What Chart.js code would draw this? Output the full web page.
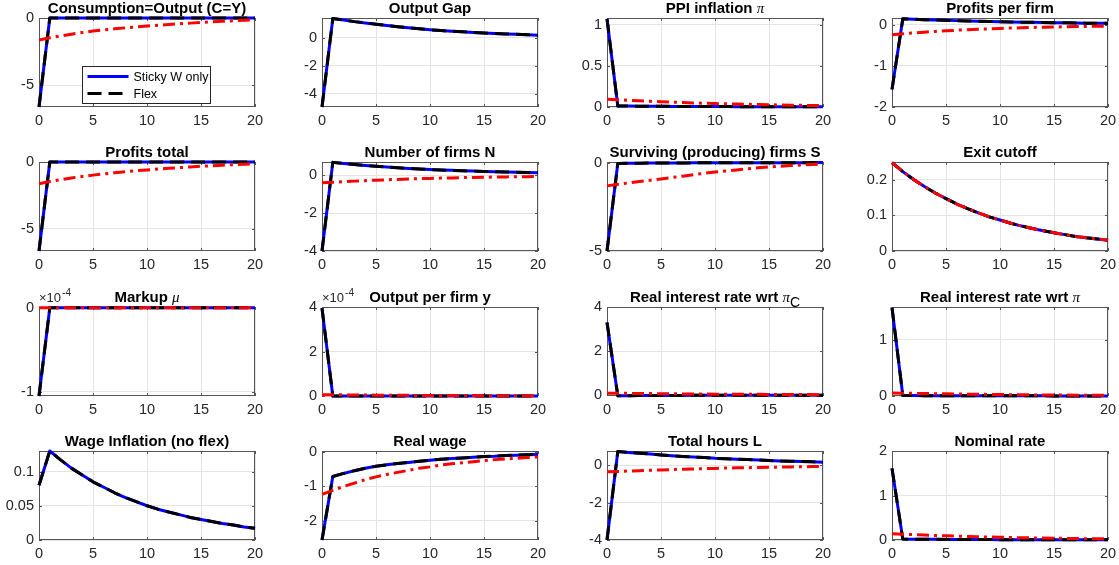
<!DOCTYPE html>
<html lang="en">
<head>
<meta charset="UTF-8">
<title>Impulse responses: Sticky W only vs Flex</title>
<script src="https://cdn.jsdelivr.net/npm/chart.js"></script>
<style>
  body { margin: 0; background: #fff; }
  #fig { position: relative; width: 1119px; height: 565px; overflow: hidden; }
  #fig canvas { position: absolute; }
</style>
</head>
<body>
<div id="fig"></div>
<script>
// horizon
const periods = [0,1,2,3,4,5,6,7,8,9,10,11,12,13,14,15,16,17,18,19,20];
const xTicks = [0, 5, 10, 15, 20];

// --- values (blue = Sticky W only, black = Flex, red = third run) ---
const consSticky = [-6.6,0,0,0,0,0,0,0,0,0,0,0,0,0,0,0,0,0,0,0,0];
const consFlex   = consSticky; // lines coincide
const consAlt    = [-1.63,-1.47,-1.33,-1.20,-1.08,-0.97,-0.88,-0.80,-0.73,-0.66,-0.60,-0.54,-0.48,-0.43,-0.38,-0.33,-0.29,-0.25,-0.21,-0.17,-0.14];

const gapSticky = [-4.95,1.38,1.27,1.16,1.07,0.98,0.89,0.80,0.72,0.65,0.58,0.52,0.47,0.43,0.39,0.35,0.31,0.28,0.25,0.22,0.19];
const gapFlex   = gapSticky;
const gapAlt    = null;

const ppiSticky = [1.07,0.012,0.011,0.010,0.009,0.008,0.0075,0.007,0.0065,0.006,0.0055,0.005,0.0045,0.004,0.0037,0.0034,0.0031,0.0028,0.0025,0.0022,0.002];
const ppiFlex   = ppiSticky;
const ppiAlt    = [0.095,0.088,0.081,0.075,0.069,0.064,0.059,0.054,0.050,0.046,0.042,0.039,0.036,0.033,0.030,0.027,0.025,0.022,0.020,0.018,0.016];

const ppfSticky = [-1.57,0.15,0.14,0.13,0.122,0.114,0.106,0.099,0.092,0.086,0.080,0.074,0.069,0.064,0.060,0.056,0.052,0.048,0.045,0.042,0.039];
const ppfFlex   = ppfSticky;
const ppfAlt    = [-0.24,-0.216,-0.194,-0.175,-0.157,-0.142,-0.128,-0.115,-0.103,-0.093,-0.084,-0.075,-0.068,-0.061,-0.055,-0.049,-0.044,-0.040,-0.036,-0.032,-0.029];

const profSticky = [-6.65,0,0,0,0,0,0,0,0,0,0,0,0,0,0,0,0,0,0,0,0];
const profFlex   = profSticky;
const profAlt    = [-1.62,-1.46,-1.32,-1.19,-1.08,-0.98,-0.89,-0.80,-0.72,-0.65,-0.59,-0.53,-0.47,-0.42,-0.37,-0.32,-0.28,-0.24,-0.20,-0.17,-0.14];

const firmsSticky = [-4.0,0.68,0.62,0.57,0.52,0.47,0.43,0.40,0.36,0.33,0.30,0.28,0.26,0.24,0.22,0.20,0.18,0.17,0.16,0.14,0.13];
const firmsFlex   = firmsSticky;
const firmsAlt    = [-0.40,-0.37,-0.34,-0.31,-0.285,-0.26,-0.24,-0.22,-0.20,-0.18,-0.165,-0.15,-0.14,-0.125,-0.115,-0.105,-0.095,-0.087,-0.08,-0.073,-0.067];

const survSticky = [-5.0,-0.05,-0.04,-0.035,-0.03,-0.027,-0.024,-0.021,-0.019,-0.017,-0.015,-0.013,-0.012,-0.011,-0.010,-0.009,-0.008,-0.007,-0.006,-0.005,-0.005];
const survFlex   = survSticky;
const survAlt    = [-1.32,-1.23,-1.15,-1.07,-1.00,-0.93,-0.85,-0.77,-0.69,-0.61,-0.54,-0.48,-0.42,-0.36,-0.30,-0.25,-0.21,-0.17,-0.14,-0.11,-0.08];

const exitSticky = [0.248,0.223,0.201,0.181,0.163,0.147,0.132,0.119,0.107,0.096,0.087,0.078,0.070,0.063,0.057,0.051,0.046,0.041,0.037,0.034,0.030];
const exitFlex   = exitSticky;
const exitAlt    = exitSticky;

// the next two panels are in units of 1e-4
const markupSticky = [-1.05,0,0,0,0,0,0,0,0,0,0,0,0,0,0,0,0,0,0,0,0];
const markupFlex   = markupSticky;
const markupAlt    = [0,0,0,0,0,0,0,0,0,0,0,0,0,0,0,0,0,0,0,0,0];

const ypfSticky = [3.95,0,0,0,0,0,0,0,0,0,0,0,0,0,0,0,0,0,0,0,0];
const ypfFlex   = ypfSticky;
const ypfAlt    = [0.06,0.055,0.05,0.046,0.042,0.038,0.035,0.032,0.029,0.027,0.025,0.023,0.021,0.019,0.017,0.016,0.015,0.013,0.012,0.011,0.010];

const rrcSticky = [3.3,-0.03,-0.025,-0.02,-0.018,-0.016,-0.014,-0.012,-0.011,-0.01,-0.009,-0.008,-0.007,-0.006,-0.006,-0.005,-0.005,-0.004,-0.004,-0.003,-0.003];
const rrcFlex   = rrcSticky;
const rrcAlt    = [0.09,0.085,0.08,0.075,0.07,0.065,0.06,0.056,0.052,0.048,0.045,0.042,0.039,0.036,0.034,0.031,0.029,0.027,0.025,0.023,0.021];

const rrpSticky = [1.57,0.008,0.007,0.0065,0.006,0.0055,0.005,0.0045,0.004,0.0037,0.0034,0.0031,0.0028,0.0025,0.0023,0.0021,0.0019,0.0017,0.0015,0.0013,0.0012];
const rrpFlex   = rrpSticky;
const rrpAlt    = [0.055,0.051,0.047,0.044,0.041,0.038,0.035,0.032,0.030,0.028,0.026,0.024,0.022,0.020,0.019,0.017,0.016,0.015,0.014,0.013,0.012];

const wageSticky = [0.08,0.13,0.117,0.105,0.095,0.085,0.077,0.069,0.062,0.056,0.050,0.045,0.041,0.037,0.033,0.030,0.027,0.024,0.022,0.019,0.017];
const wageFlex   = wageSticky;
const wageAlt    = null;

const rwSticky = [-2.56,-0.72,-0.63,-0.55,-0.48,-0.42,-0.38,-0.34,-0.31,-0.28,-0.25,-0.22,-0.20,-0.18,-0.16,-0.14,-0.13,-0.11,-0.10,-0.09,-0.08];
const rwFlex   = rwSticky;
const rwAlt    = [-1.24,-1.12,-1.01,-0.91,-0.81,-0.73,-0.66,-0.60,-0.54,-0.48,-0.44,-0.39,-0.35,-0.32,-0.29,-0.26,-0.23,-0.21,-0.19,-0.17,-0.15];

const hoursSticky = [-4.0,0.72,0.67,0.63,0.59,0.54,0.50,0.46,0.43,0.40,0.36,0.34,0.31,0.29,0.27,0.24,0.22,0.20,0.19,0.17,0.15];
const hoursFlex   = hoursSticky;
const hoursAlt    = [-0.36,-0.34,-0.32,-0.30,-0.28,-0.26,-0.24,-0.22,-0.21,-0.19,-0.18,-0.16,-0.15,-0.14,-0.13,-0.12,-0.11,-0.10,-0.09,-0.08,-0.07];

const nomSticky = [1.61,0.02,0.018,0.016,0.015,0.013,0.012,0.011,0.010,0.009,0.008,0.007,0.007,0.006,0.005,0.005,0.004,0.004,0.004,0.003,0.003];
const nomFlex   = nomSticky;
const nomAlt    = [0.14,0.13,0.12,0.11,0.10,0.093,0.086,0.079,0.072,0.066,0.061,0.056,0.051,0.047,0.043,0.040,0.036,0.033,0.030,0.028,0.025];

// titles (\pi, \mu and _X are rendered like the TeX in the original)
const titles = [
  'Consumption=Output (C=Y)', 'Output Gap', 'PPI inflation \\pi', 'Profits per firm',
  'Profits total', 'Number of firms N', 'Surviving (producing) firms S', 'Exit cutoff',
  'Markup \\mu', 'Output per firm y', 'Real interest rate wrt \\pi_C', 'Real interest rate wrt \\pi',
  'Wage Inflation (no flex)', 'Real wage', 'Total hours L', 'Nominal rate'
];
const yLimits = [
  [-6.6, 0], [-4.95, 1.42], [0, 1.08], [-2, 0.17],
  [-6.65, 0], [-4.0, 0.7], [-5.0, 0.03], [0, 0.25],
  [-1.05, 0.01], [0, 4], [-0.04, 4], [0, 1.58],
  [0, 0.13], [-2.56, 0.02], [-4.0, 0.75], [0, 2]
];
const yTickValues = [
  [-5, 0], [-4, -2, 0], [0, 0.5, 1], [-2, -1, 0],
  [-5, 0], [-4, -2, 0], [-5, 0], [0, 0.1, 0.2],
  [-1, 0], [0, 2, 4], [0, 2, 4], [0, 1],
  [0, 0.05, 0.1], [-2, -1, 0], [-4, -2, 0], [0, 1, 2]
];
const yExponent = [null, null, null, null, null, null, null, null, -4, -4, null, null, null, null, null, null];

const stickySeries = [consSticky, gapSticky, ppiSticky, ppfSticky, profSticky, firmsSticky, survSticky, exitSticky,
  markupSticky, ypfSticky, rrcSticky, rrpSticky, wageSticky, rwSticky, hoursSticky, nomSticky];
const flexSeries = [consFlex, gapFlex, ppiFlex, ppfFlex, profFlex, firmsFlex, survFlex, exitFlex,
  markupFlex, ypfFlex, rrcFlex, rrpFlex, wageFlex, rwFlex, hoursFlex, nomFlex];
const altSeries = [consAlt, gapAlt, ppiAlt, ppfAlt, profAlt, firmsAlt, survAlt, exitAlt,
  markupAlt, ypfAlt, rrcAlt, rrpAlt, wageAlt, rwAlt, hoursAlt, nomAlt];

// --- layout (pixels) ---
const colLeft = [39, 322, 607, 892];
const rowTop = [18, 162, 307, 451];
const plotW = 216, plotH = 89;
const padL = 40, padT = 22, padR = 16, padB = 26;

const AXIS_COLOR = '#262626';
const FONT = '"Liberation Sans", Arial, Helvetica, sans-serif';

function titleSegments(str) {
  return str.split(/(\\pi|\\mu|_[A-Za-z])/).filter(p => p !== '').map(p => {
    if (p === '\\pi') return { text: '\u03c0', font: 'italic 15px "Liberation Serif", serif', dy: 0 };
    if (p === '\\mu') return { text: '\u03bc', font: 'italic 15px "Liberation Serif", serif', dy: 0 };
    if (p[0] === '_') return { text: p.slice(1), font: '14px ' + FONT, dy: 5 };
    return { text: p, font: 'bold 15px ' + FONT, dy: 0 };
  });
}

// box, inward ticks, title and exponent, MATLAB style
const axesDecor = {
  id: 'axesDecor',
  beforeDatasetsDraw(chart, args, opts) {
    const { ctx, chartArea: a } = chart;
    const xs = chart.scales.x, ys = chart.scales.y;
    ctx.save();
    ctx.strokeStyle = '#555';
    ctx.lineWidth = 1;
    ctx.strokeRect(Math.round(a.left) + 0.5, Math.round(a.top) + 0.5,
      Math.round(a.right - a.left) - 1, Math.round(a.bottom - a.top) - 1);
    ctx.beginPath();
    xs.ticks.forEach(t => {
      const px = Math.round(xs.getPixelForValue(t.value)) + 0.5;
      ctx.moveTo(px, a.bottom); ctx.lineTo(px, a.bottom - 3);
      ctx.moveTo(px, a.top); ctx.lineTo(px, a.top + 3);
    });
    ys.ticks.forEach(t => {
      const py = Math.round(ys.getPixelForValue(t.value)) + 0.5;
      ctx.moveTo(a.left, py); ctx.lineTo(a.left + 3, py);
      ctx.moveTo(a.right, py); ctx.lineTo(a.right - 3, py);
    });
    ctx.stroke();
    ctx.restore();
  },
  afterDraw(chart, args, opts) {
    const { ctx, chartArea: a } = chart;
    ctx.save();
    ctx.textBaseline = 'alphabetic';
    ctx.textAlign = 'left';
    ctx.fillStyle = '#000';
    const segs = titleSegments(opts.title);
    let total = 0;
    segs.forEach(s => { ctx.font = s.font; s.w = ctx.measureText(s.text).width; total += s.w; });
    let x = (a.left + a.right) / 2 - total / 2;
    const base = a.top - 5;
    segs.forEach(s => { ctx.font = s.font; ctx.fillText(s.text, x, base + s.dy); x += s.w; });
    if (opts.exponent !== null) {
      ctx.fillStyle = AXIS_COLOR;
      ctx.font = '13px ' + FONT;
      const lead = '\u00d710';
      ctx.fillText(lead, a.left, base);
      const lw = ctx.measureText(lead).width;
      ctx.font = '10px ' + FONT;
      ctx.fillText(String(opts.exponent), a.left + lw + 1, base - 6);
    }
    ctx.restore();
  }
};

// legend drawn inside the first panel
const insideLegend = {
  id: 'insideLegend',
  afterDatasetsDraw(chart, args, opts) {
    if (!opts.show) return;
    const { ctx, chartArea: a } = chart;
    const x = Math.round(a.left + 43) + 0.5, y = Math.round(a.top + 48) + 0.5;
    const w = 128, h = 37;
    ctx.save();
    ctx.fillStyle = '#fff';
    ctx.fillRect(x, y, w, h);
    ctx.strokeStyle = AXIS_COLOR;
    ctx.lineWidth = 1;
    ctx.strokeRect(x, y, w, h);
    const entries = chart.data.datasets.filter(d => d.inLegend);
    entries.forEach((d, i) => {
      const ly = y + 10 + i * 17;
      ctx.beginPath();
      ctx.strokeStyle = d.borderColor;
      ctx.lineWidth = d.borderWidth;
      ctx.setLineDash(d.borderDash || []);
      ctx.moveTo(x + 5, ly); ctx.lineTo(x + 46, ly);
      ctx.stroke();
      ctx.setLineDash([]);
      ctx.fillStyle = '#000';
      ctx.font = '12.5px ' + FONT;
      ctx.textBaseline = 'middle';
      ctx.fillText(d.label, x + 51, ly + 1);
    });
    ctx.restore();
  }
};

function fmt(v) {
  return String(+v.toFixed(6));
}

const fig = document.getElementById('fig');

for (let i = 0; i < 16; i++) {
  const r = Math.floor(i / 4), c = i % 4;
  const canvas = document.createElement('canvas');
  const cw = plotW + padL + padR, ch = plotH + padT + padB;
  canvas.width = cw; canvas.height = ch;
  canvas.style.width = cw + 'px'; canvas.style.height = ch + 'px';
  canvas.style.left = (colLeft[c] - padL) + 'px';
  canvas.style.top = (rowTop[r] - padT) + 'px';
  fig.appendChild(canvas);

  const datasets = [
    { label: 'Sticky W only', data: stickySeries[i], borderColor: '#0000ff', borderWidth: 3, order: 3, inLegend: true },
    { label: 'Flex', data: flexSeries[i], borderColor: '#000000', borderWidth: 3, borderDash: [14, 7], order: 2, inLegend: true }
  ];
  if (altSeries[i]) {
    datasets.push({ label: 'Third run', data: altSeries[i], borderColor: '#ff0000', borderWidth: 3, borderDash: [12, 5, 3, 5], order: 1, inLegend: false });
  }
  datasets.forEach(d => {
    d.pointRadius = 0; d.tension = 0; d.fill = false; d.clip = 4;
    d.borderJoinStyle = 'round'; d.borderCapStyle = 'butt';
  });

  const gridOpts = { color: '#e4e4e4', lineWidth: 1, drawTicks: false };
  const tickFont = { family: FONT, size: 14.5 };

  new Chart(canvas, {
    type: 'line',
    data: { labels: periods, datasets: datasets },
    options: {
      responsive: false,
      devicePixelRatio: 1,
      animation: false,
      events: [],
      layout: { autoPadding: false, padding: { left: 0, top: padT, right: padR, bottom: 0 } },
      scales: {
        x: {
          type: 'linear', min: 0, max: 20,
          afterBuildTicks: s => { s.ticks = xTicks.map(v => ({ value: v })); },
          afterFit: s => { s.height = padB; },
          grid: gridOpts,
          border: { display: false },
          ticks: { color: AXIS_COLOR, font: tickFont, padding: 5, maxRotation: 0, autoSkip: false, callback: v => String(v) }
        },
        y: {
          type: 'linear', min: yLimits[i][0], max: yLimits[i][1],
          afterBuildTicks: s => { s.ticks = yTickValues[i].map(v => ({ value: v })); },
          afterFit: s => { s.width = padL; },
          grid: gridOpts,
          border: { display: false },
          ticks: { color: AXIS_COLOR, font: tickFont, padding: 5, autoSkip: false, callback: v => fmt(v) }
        }
      },
      plugins: {
        legend: { display: false },
        tooltip: { enabled: false },
        axesDecor: { title: titles[i], exponent: yExponent[i] },
        insideLegend: { show: i === 0 }
      }
    },
    plugins: [axesDecor, insideLegend]
  });
}
</script>
</body>
</html>
